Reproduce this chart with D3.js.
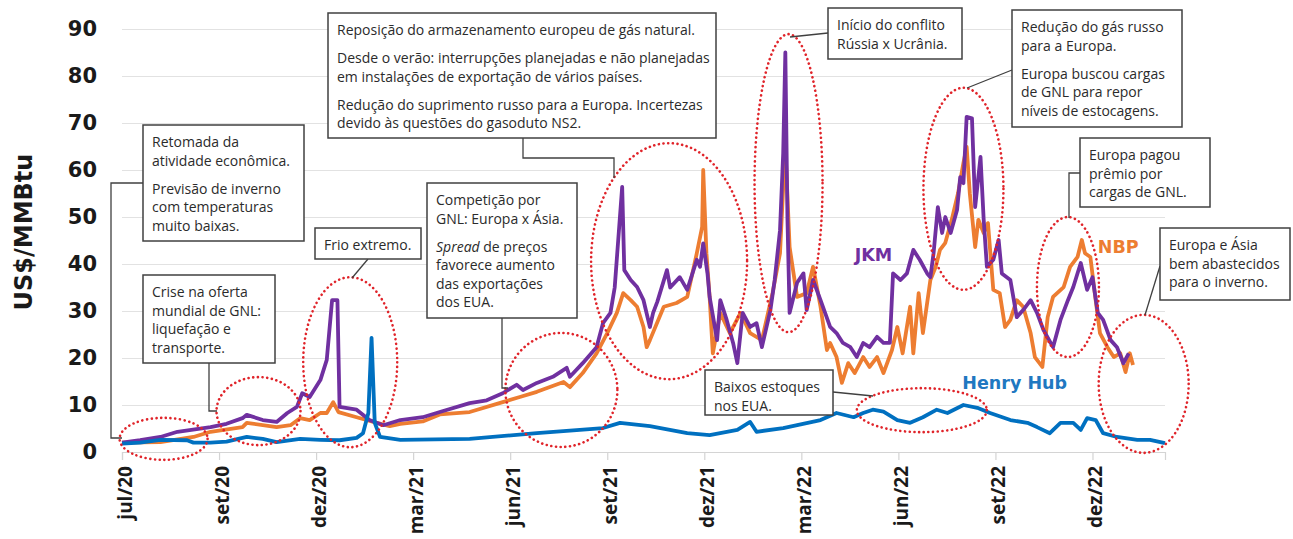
<!DOCTYPE html>
<html>
<head>
<meta charset="utf-8">
<script src="https://cdn.jsdelivr.net/npm/d3@7"></script>
<style>
body { margin: 0; background: #fff; }
svg { display: block; }
</style>
</head>
<body>
<div id="chart"></div>
<script>
// eixo x: datas dos ticks e rotulos
var tickDates = ["2020-07-01","2020-09-30","2020-12-30","2021-03-31","2021-06-30","2021-09-29",
                 "2021-12-29","2022-03-30","2022-06-29","2022-09-28","2022-12-28"];
var tickLabels = ["jul/20","set/20","dez/20","mar/21","jun/21","set/21","dez/21","mar/22","jun/22","set/22","dez/22"];
var yTicks = [0,10,20,30,40,50,60,70,80,90];

// JKM (US$/MMBtu)
var jkm = [
["2020-07-01",2.0],["2020-07-18",2.5],["2020-08-06",3.2],["2020-08-22",4.3],["2020-09-22",5.3],
["2020-10-07",6.0],["2020-10-22",7.2],["2020-10-26",7.9],["2020-11-10",6.8],["2020-11-23",6.4],
["2020-12-03",8.3],["2020-12-12",9.6],["2020-12-17",12.5],["2020-12-24",11.7],["2021-01-03",15.3],
["2021-01-09",19.6],["2021-01-14",32.3],["2021-01-19",32.3],["2021-01-21",9.6],["2021-02-06",9.0],
["2021-02-18",6.8],["2021-03-03",5.7],["2021-03-19",6.8],["2021-04-09",7.4],["2021-04-25",8.5],
["2021-05-23",10.4],["2021-06-08",11.0],["2021-06-23",12.5],["2021-07-06",14.3],["2021-07-12",13.2],
["2021-07-25",14.7],["2021-08-09",16.0],["2021-08-22",17.9],["2021-08-25",16.0],["2021-09-06",18.9],
["2021-09-19",22.3],["2021-09-25",27.4],["2021-10-02",29.6],["2021-10-06",35.0],["2021-10-13",56.4],
["2021-10-15",38.7],["2021-10-21",36.6],["2021-10-27",35.1],["2021-11-02",32.3],["2021-11-08",26.6],
["2021-11-11",29.6],["2021-11-15",32.0],["2021-11-24",38.7],["2021-11-27",35.0],["2021-12-06",37.2],
["2021-12-13",34.5],["2021-12-22",40.9],["2021-12-25",39.4],["2021-12-28",44.4],["2022-01-01",38.0],
["2022-01-03",33.0],["2022-01-10",23.8],["2022-01-13",32.3],["2022-01-19",28.1],["2022-01-25",23.2],
["2022-01-29",18.9],["2022-02-03",29.6],["2022-02-10",26.6],["2022-02-16",27.4],["2022-02-21",22.3],
["2022-03-01",30.2],["2022-03-05",36.6],["2022-03-10",47.2],["2022-03-13",63.6],["2022-03-15",85.0],
["2022-03-17",49.4],["2022-03-19",29.6],["2022-03-26",36.0],["2022-04-01",38.0],["2022-04-04",30.2],
["2022-04-10",36.6],["2022-04-17",32.3],["2022-04-26",26.6],["2022-05-02",25.3],["2022-05-08",23.2],
["2022-05-15",22.3],["2022-05-21",20.2],["2022-05-27",23.2],["2022-06-02",22.3],["2022-06-09",24.5],
["2022-06-15",23.2],["2022-06-21",23.2],["2022-06-24",38.0],["2022-07-01",36.6],["2022-07-07",38.0],
["2022-07-13",43.0],["2022-07-19",40.9],["2022-07-26",38.0],["2022-07-29",37.2],["2022-08-01",42.3],
["2022-08-05",52.1],["2022-08-09",46.6],["2022-08-12",50.0],["2022-08-17",46.6],["2022-08-23",51.5],
["2022-08-26",58.5],["2022-08-29",57.2],["2022-09-01",71.3],["2022-09-06",71.0],["2022-09-09",52.1],
["2022-09-14",62.8],["2022-09-17",49.4],["2022-09-20",39.4],["2022-09-26",40.9],["2022-10-01",45.1],
["2022-10-04",38.0],["2022-10-12",36.6],["2022-10-18",28.7],["2022-10-24",30.2],["2022-10-31",32.3],
["2022-11-06",29.6],["2022-11-12",26.0],["2022-11-21",22.3],["2022-11-28",28.1],["2022-12-05",32.3],
["2022-12-10",35.1],["2022-12-17",40.2],["2022-12-23",34.5],["2022-12-28",37.2],["2023-01-02",29.6],
["2023-01-07",28.1],["2023-01-14",23.8],["2023-01-20",22.3],["2023-01-26",18.9],["2023-01-31",21.0]
];

// NBP
var nbp = [
["2020-07-01",2.0],["2020-08-06",2.1],["2020-09-06",3.2],["2020-09-22",4.3],["2020-10-22",5.3],
["2020-10-26",6.2],["2020-11-23",5.3],["2020-12-06",5.7],["2020-12-15",7.2],["2020-12-24",6.8],
["2021-01-03",8.3],["2021-01-09",8.3],["2021-01-15",10.6],["2021-01-20",8.5],["2021-02-06",7.4],
["2021-02-25",6.2],["2021-03-09",5.5],["2021-03-19",6.0],["2021-04-09",6.5],["2021-04-25",8.0],
["2021-05-23",8.5],["2021-06-23",10.6],["2021-07-09",11.7],["2021-07-25",12.8],["2021-08-19",14.9],
["2021-08-25",13.8],["2021-09-06",16.8],["2021-09-19",21.0],["2021-09-29",25.3],["2021-10-08",29.6],
["2021-10-14",33.8],["2021-10-21",32.3],["2021-10-27",30.9],["2021-11-02",26.6],["2021-11-05",22.3],
["2021-11-08",23.8],["2021-11-21",30.9],["2021-12-03",31.7],["2021-12-13",33.0],["2021-12-22",42.3],
["2021-12-27",47.9],["2021-12-28",60.0],["2021-12-31",42.3],["2022-01-03",33.0],["2022-01-06",21.0],
["2022-01-13",29.6],["2022-01-22",25.3],["2022-02-01",29.6],["2022-02-10",25.3],["2022-02-21",23.8],
["2022-03-03",33.8],["2022-03-10",42.3],["2022-03-13",56.4],["2022-03-15",65.0],["2022-03-19",43.6],
["2022-03-26",33.0],["2022-04-04",33.8],["2022-04-10",39.4],["2022-04-17",30.9],["2022-04-23",21.7],
["2022-04-26",23.2],["2022-05-02",20.2],["2022-05-07",14.7],["2022-05-13",18.9],["2022-05-19",16.8],
["2022-05-27",20.2],["2022-06-02",18.1],["2022-06-09",20.2],["2022-06-15",16.8],["2022-06-23",21.7],
["2022-06-28",26.6],["2022-07-03",21.0],["2022-07-10",30.9],["2022-07-13",21.0],["2022-07-18",33.8],
["2022-07-22",25.3],["2022-07-29",36.6],["2022-08-03",39.4],["2022-08-07",43.0],["2022-08-12",44.5],
["2022-08-18",49.4],["2022-08-24",55.1],["2022-08-29",61.5],["2022-09-01",64.9],["2022-09-04",55.0],
["2022-09-09",43.6],["2022-09-12",49.4],["2022-09-17",46.6],["2022-09-21",48.7],["2022-09-26",34.5],
["2022-10-02",33.8],["2022-10-07",26.6],["2022-10-12",28.1],["2022-10-18",32.3],["2022-10-24",30.9],
["2022-10-31",25.3],["2022-11-04",20.2],["2022-11-11",18.1],["2022-11-16",28.7],["2022-11-21",33.0],
["2022-12-01",35.1],["2022-12-07",39.4],["2022-12-14",41.5],["2022-12-18",45.1],["2022-12-21",42.3],
["2022-12-26",41.5],["2022-12-31",32.3],["2023-01-04",25.3],["2023-01-11",22.3],["2023-01-17",20.2],
["2023-01-23",21.0],["2023-01-28",17.0],["2023-02-01",21.0],["2023-02-04",18.5]
];

// Henry Hub
var henryHub = [
["2020-07-01",1.8],["2020-07-18",2.0],["2020-08-06",2.6],["2020-08-31",2.5],["2020-09-06",2.0],
["2020-09-22",2.0],["2020-10-07",2.2],["2020-10-26",3.2],["2020-11-10",2.8],["2020-11-23",2.1],
["2020-12-15",2.8],["2021-01-03",2.6],["2021-01-21",2.5],["2021-02-06",3.0],["2021-02-12",4.0],
["2021-02-17",8.3],["2021-02-20",24.3],["2021-02-23",6.2],["2021-02-28",3.2],["2021-03-19",2.6],
["2021-05-23",2.8],["2021-07-25",4.0],["2021-09-25",5.1],["2021-10-11",6.2],["2021-11-08",5.5],
["2021-12-13",4.0],["2022-01-03",3.6],["2022-01-29",4.7],["2022-02-10",6.4],["2022-02-16",4.3],
["2022-03-13",5.1],["2022-04-17",6.8],["2022-05-02",8.3],["2022-05-18",7.4],["2022-05-27",8.3],
["2022-06-05",9.0],["2022-06-15",8.6],["2022-06-28",6.8],["2022-07-10",6.2],["2022-07-22",7.4],
["2022-08-04",9.0],["2022-08-14",8.3],["2022-08-29",10.0],["2022-09-11",9.4],["2022-09-23",8.3],
["2022-10-12",6.8],["2022-10-28",6.2],["2022-11-06",5.3],["2022-11-18",4.0],["2022-11-28",6.2],
["2022-12-10",6.2],["2022-12-17",4.7],["2022-12-23",7.2],["2022-12-31",6.8],["2023-01-07",4.0],
["2023-01-20",3.2],["2023-02-08",2.6],["2023-02-20",2.6],["2023-03-06",1.9]
];

// elipses pontilhadas: centro em data/valor, raios em px
var ellipses = [
  ["2020-08-09",2.8,44,21],["2020-11-06",8.7,42,34],["2021-01-31",19.1,47,85],
  ["2021-08-17",13.2,56,57],["2021-11-26",40.6,78,118],["2022-03-18",57.2,34,149],
  ["2022-07-21",8.9,65,22],["2022-08-29",56,40,101],["2022-12-05",35.1,31,70],
  ["2023-02-14",14.5,45,69]
];

// caixas de texto
var notes = [
  {box:[143,125,161,116], paras:[["Retomada da","atividade econômica."],["Previsão de inverno","com temperaturas","muito baixas."]],
   link:[[143,183],[111,183],[111,438],[122,438]]},
  {box:[328,13,388,125], paras:[["Reposição do armazenamento europeu de gás natural."],
     ["Desde o verão: interrupções planejadas e não planejadas","em instalações de exportação de vários países."],
     ["Redução do suprimento russo para a Europa. Incertezas","devido às questões do gasoduto NS2."]],
   link:[[523,138],[523,158],[614,158],[614,178]]},
  {box:[143,275,132,88], paras:[["Crise na oferta","mundial de GNL:","liquefação e","transporte."]],
   link:[[209,363],[209,411],[217,411]]},
  {box:[315,228,106,31], paras:[["Frio extremo."]], link:[[368,259],[352,278]]},
  {box:[427,183,150,135], paras:[["Competição por","GNL: Europa x Ásia."],["*Spread* de preços","favorece aumento","das exportações","dos EUA."]],
   link:[[502,318],[502,388],[508,388]]},
  {box:[828,8,134,51], paras:[["Início do conflito","Rússia x Ucrânia."]], link:[[828,33],[790,37]]},
  {box:[1012,10,170,117], paras:[["Redução do gás russo","para a Europa."],["Europa buscou cargas","de GNL para repor","níveis de estocagens."]],
   link:[[1012,70],[967,88]]},
  {box:[1080,138,130,69], paras:[["Europa pagou","prêmio por","cargas de GNL."]], link:[[1080,173],[1069,173],[1069,218]]},
  {box:[1160,228,130,72], paras:[["Europa e Ásia","bem abastecidos","para o inverno."]], link:[[1160,266],[1145,315]]},
  {box:[705,370,128,45], paras:[["Baixos estoques","nos EUA."]], link:[[833,392],[873,396]]}
];

var w = 1293, h = 539;
var parse = d3.timeParse("%Y-%m-%d");

var svg = d3.select("#chart").append("svg")
  .attr("width", w).attr("height", h)
  .style("background-color", "#fff");

var x = d3.scaleTime()
  .domain([parse("2020-07-01"), parse("2023-03-06")])
  .range([122, 1165]);
var y = d3.scaleLinear().domain([0, 90]).range([452, 29]);

// grade horizontal
svg.append("g").attr("transform", "translate(122,0)")
  .call(d3.axisLeft(y).tickValues(yTicks.slice(1)).tickSize(-(1165 - 122)).tickFormat(""))
  .call(g => g.select(".domain").remove())
  .selectAll("line").attr("stroke", "#e2e2e2").attr("stroke-width", 1);

// rotulos eixo y
svg.append("g").attr("transform", "translate(122,0)")
  .call(d3.axisLeft(y).tickValues(yTicks).tickSize(0).tickPadding(25))
  .call(g => g.select(".domain").remove())
  .selectAll("text")
  .attr("font-family", "DejaVu Sans").attr("font-weight", "bold")
  .attr("font-size", 21).attr("fill", "#1a1a1a");

// eixo x
var xAxis = svg.append("g").attr("transform", "translate(0,452)")
  .call(d3.axisBottom(x).tickValues(tickDates.map(parse))
        .tickFormat((d, i) => tickLabels[i]).tickSize(8));
xAxis.select(".domain").attr("stroke", "#d4d4d4").attr("stroke-width", 1.2);
xAxis.selectAll(".tick line").attr("stroke", "#d4d4d4").attr("stroke-width", 1.2);
xAxis.selectAll("text")
  .attr("transform", "rotate(-90)")
  .attr("x", -14).attr("y", 0).attr("dy", "0.5em")
  .attr("text-anchor", "end")
  .attr("font-family", "Open Sans").attr("font-weight", "bold")
  .attr("font-size", 19).attr("fill", "#1a1a1a");

// titulo eixo y
svg.append("text")
  .attr("transform", "translate(32,232) rotate(-90)")
  .attr("text-anchor", "middle")
  .attr("font-family", "DejaVu Sans").attr("font-weight", "bold")
  .attr("font-size", 24).attr("fill", "#1a1a1a")
  .text("US$/MMBtu");

// linhas
var line = d3.line().x(d => x(parse(d[0]))).y(d => y(d[1]));
var series = [[nbp, "#ED7D31"], [jkm, "#7030A0"], [henryHub, "#0070C0"]];
series.forEach(function (s) {
  svg.append("path").datum(s[0])
    .attr("d", line)
    .attr("fill", "none")
    .attr("stroke", s[1])
    .attr("stroke-width", 3.8)
    .attr("stroke-linejoin", "round");
});

// nomes das series
var seriesLabels = [["JKM", "2022-05-19", 40.7, "#7030A0"], ["NBP", "2023-01-02", 42.4, "#ED7D31"],
                    ["Henry Hub", "2022-08-28", 13.3, "#1F78C1"]];
svg.selectAll(".slabel").data(seriesLabels).enter().append("text")
  .attr("class", "slabel")
  .attr("x", d => x(parse(d[1]))).attr("y", d => y(d[2]))
  .attr("fill", d => d[3])
  .attr("font-family", "DejaVu Sans").attr("font-weight", "bold").attr("font-size", 17.5)
  .text(d => d[0]);

// elipses
svg.selectAll("ellipse").data(ellipses).enter().append("ellipse")
  .attr("cx", d => x(parse(d[0]))).attr("cy", d => y(d[1]))
  .attr("rx", d => d[2]).attr("ry", d => d[3])
  .attr("fill", "none").attr("stroke", "#E0242A").attr("stroke-width", 2.6)
  .attr("stroke-dasharray", "0.1 4.6").attr("stroke-linecap", "round");

// anotacoes
var lh = 18.5, pg = 9.5;
notes.forEach(function (n) {
  svg.append("path")
    .attr("d", d3.line()(n.link))
    .attr("fill", "none").attr("stroke", "#404040").attr("stroke-width", 1.3);
  svg.append("rect")
    .attr("x", n.box[0]).attr("y", n.box[1]).attr("width", n.box[2]).attr("height", n.box[3])
    .attr("fill", "#fff").attr("stroke", "#404040").attr("stroke-width", 1.5);
  var yy = n.box[1] + 22;
  n.paras.forEach(function (p, pi) {
    if (pi > 0) yy += pg;
    p.forEach(function (l) {
      var t = svg.append("text").attr("x", n.box[0] + 9).attr("y", yy)
        .attr("font-family", "Open Sans").attr("font-size", 14).attr("fill", "#2b2b2b");
      var m = l.match(/^\*(.+?)\*(.*)$/);
      if (m) {
        t.append("tspan").attr("font-style", "italic").text(m[1]);
        t.append("tspan").text(m[2]);
      } else {
        t.text(l);
      }
      yy += lh;
    });
  });
});
</script>
</body>
</html>
